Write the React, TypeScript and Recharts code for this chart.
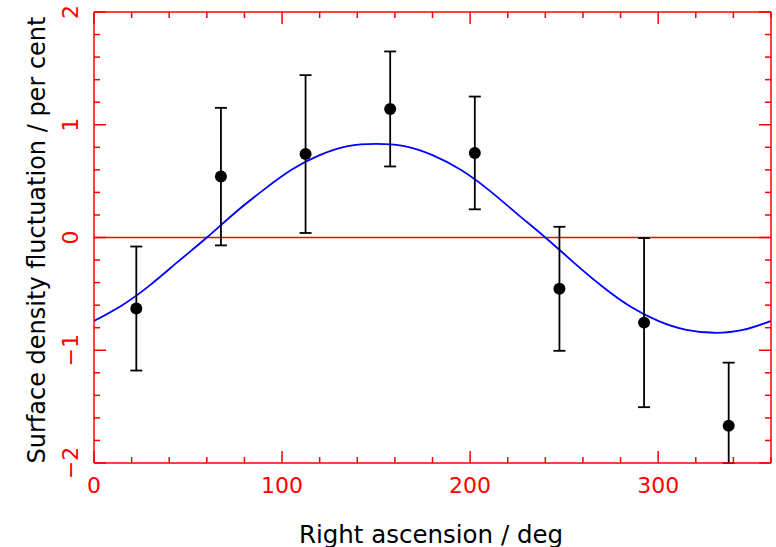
import { ComposedChart, Line, Scatter, ErrorBar, XAxis, YAxis, ReferenceLine } from "recharts";

// observed points (right ascension bins, deg)
const raBins = [22.5, 67.5, 112.5, 157.5, 202.5, 247.5, 292.5, 337.5];
const fluct = [-0.63, 0.54, 0.74, 1.14, 0.75, -0.455, -0.755, -1.67];
const fluctErr = [0.55, 0.61, 0.70, 0.51, 0.50, 0.55, 0.75, 0.56];

// fitted curve
const curveRa = [0, 15, 30, 45, 60, 75, 90, 105, 120, 135, 150, 165, 180, 195, 210, 225, 240, 255, 270, 285, 300, 315, 330, 345, 360];
const curveVal = [-0.74, -0.6, -0.42, -0.21, 0.0, 0.22, 0.42, 0.6, 0.73, 0.81, 0.83, 0.81, 0.73, 0.6, 0.42, 0.21, 0.0, -0.22, -0.43, -0.61, -0.74, -0.82, -0.845, -0.82, -0.74];

const xTicks = Array.from({ length: 19 }, (_, i) => i * 20);
const yTicks = Array.from({ length: 21 }, (_, i) => Math.round((-2 + i * 0.2) * 10) / 10);

const Y_MIN = -2;
const Y_MAX = 2;

// error bars are cut at the frame (lower part of the last bin runs off the plot)
const points = raBins.map((x, i) => ({
  x,
  y: fluct[i],
  err: [Math.min(fluctErr[i], fluct[i] - Y_MIN), Math.min(fluctErr[i], Y_MAX - fluct[i])],
}));
const curve = curveRa.map((x, i) => ({ x, y: curveVal[i] }));

const RED = "#ff0000";
const FONT = "DejaVu Sans";

const isMajorY = (v: number) => Math.abs(v - Math.round(v)) < 1e-6;
const fmt = (v: number) => (v < 0 ? "\u2212" + Math.abs(v) : String(v));

const XTick = ({ x, y, payload, side }: any) => {
  const v = payload.value;
  const len = v % 100 === 0 ? 12 : 6;
  const dir = side === "top" ? 1 : -1;
  return (
    <g>
      <line x1={x} x2={x} y1={y} y2={y + dir * len} stroke={RED} strokeWidth={1.5} />
      {side === "bottom" && v % 100 === 0 && (
        <text x={x} y={y + 30} textAnchor="middle" fill={RED} fontSize={22} fontFamily={FONT}>
          {v}
        </text>
      )}
    </g>
  );
};

const YTick = ({ x, y, payload, side }: any) => {
  const v = payload.value;
  const major = isMajorY(v);
  const len = major ? 12 : 6;
  const dir = side === "left" ? 1 : -1;
  return (
    <g>
      <line x1={x} x2={x + dir * len} y1={y} y2={y} stroke={RED} strokeWidth={1.5} />
      {side === "left" && major && (
        <text
          x={78}
          y={y}
          transform={`rotate(-90, 78, ${y})`}
          textAnchor="middle"
          fill={RED}
          fontSize={22}
          fontFamily={FONT}
        >
          {fmt(Math.round(v))}
        </text>
      )}
    </g>
  );
};

export default function App() {
  return (
    <div style={{ position: "absolute", left: 0, top: 0, width: 776, height: 547, background: "#fff" }}>
      <ComposedChart width={776} height={547} margin={{ top: 11, right: 4, bottom: 83, left: 93 }}>
        <XAxis
          xAxisId="b"
          type="number"
          dataKey="x"
          orientation="bottom"
          domain={[0, 360]}
          ticks={xTicks}
          interval={0}
          height={1}
          tickSize={0}
          tickMargin={0}
          allowDataOverflow
          axisLine={{ stroke: RED, strokeWidth: 1.5 }}
          tickLine={false}
          tick={(p: any) => <XTick {...p} side="bottom" />}
        />
        <XAxis
          xAxisId="t"
          type="number"
          dataKey="x"
          orientation="top"
          domain={[0, 360]}
          ticks={xTicks}
          interval={0}
          height={1}
          tickSize={0}
          tickMargin={0}
          allowDataOverflow
          axisLine={{ stroke: RED, strokeWidth: 1.5 }}
          tickLine={false}
          tick={(p: any) => <XTick {...p} side="top" />}
        />
        <YAxis
          yAxisId="l"
          type="number"
          orientation="left"
          domain={[Y_MIN, Y_MAX]}
          ticks={yTicks}
          interval={0}
          width={1}
          tickSize={0}
          tickMargin={0}
          allowDataOverflow
          axisLine={{ stroke: RED, strokeWidth: 1.5 }}
          tickLine={false}
          tick={(p: any) => <YTick {...p} side="left" />}
        />
        <YAxis
          yAxisId="r"
          type="number"
          orientation="right"
          domain={[Y_MIN, Y_MAX]}
          ticks={yTicks}
          interval={0}
          width={1}
          tickSize={0}
          tickMargin={0}
          allowDataOverflow
          axisLine={{ stroke: RED, strokeWidth: 1.5 }}
          tickLine={false}
          tick={(p: any) => <YTick {...p} side="right" />}
        />
        <ReferenceLine xAxisId="b" yAxisId="l" y={0} stroke={RED} strokeWidth={1.5} />
        <Line
          xAxisId="b"
          yAxisId="l"
          data={curve}
          dataKey="y"
          type="natural"
          stroke="#0000ff"
          strokeWidth={1.8}
          dot={false}
          activeDot={false}
          isAnimationActive={false}
        />
        <Line
          xAxisId="t"
          yAxisId="r"
          data={curve}
          dataKey="y"
          stroke="none"
          dot={false}
          activeDot={false}
          isAnimationActive={false}
        />
        <Scatter xAxisId="b" yAxisId="l" data={points} dataKey="y" fill="#000" isAnimationActive={false} shape={(p: any) => <circle cx={p.cx} cy={p.cy} r={6} fill="#000" />}>
          <ErrorBar dataKey="err" direction="y" width={6} stroke="#000" strokeWidth={1.8} isAnimationActive={false} />
        </Scatter>
      </ComposedChart>
      <div
        style={{
          position: "absolute",
          left: 37,
          top: 240,
          transform: "translate(-50%, -50%) rotate(-90deg)",
          whiteSpace: "nowrap",
          fontFamily: FONT,
          fontSize: 24,
          color: "#000",
        }}
      >
        Surface density fluctuation / per cent
      </div>
      <div
        style={{
          position: "absolute",
          left: 431,
          top: 534,
          transform: "translate(-50%, -50%)",
          whiteSpace: "nowrap",
          fontFamily: FONT,
          fontSize: 24.5,
          color: "#000",
        }}
      >
        Right ascension / deg
      </div>
    </div>
  );
}
